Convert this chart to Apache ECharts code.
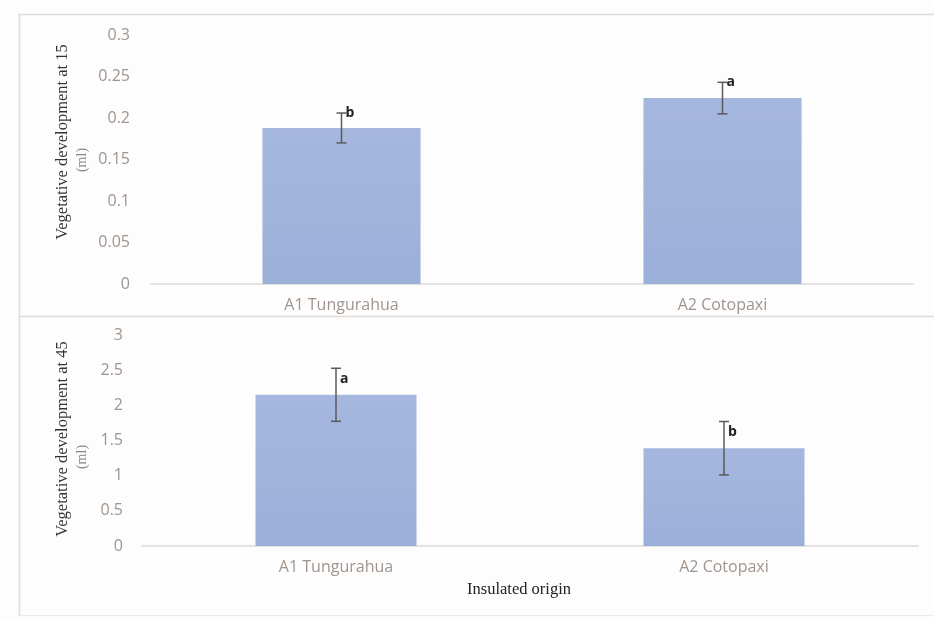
<!DOCTYPE html>
<html>
<head>
<meta charset="utf-8">
<script src="https://cdn.jsdelivr.net/npm/echarts@6/dist/echarts.min.js"></script>
<style>
  html, body { margin: 0; padding: 0; background: #fdfdfd; }
  #chart { width: 934px; height: 619px; }
</style>
</head>
<body>
<div id="chart"></div>
<script>
// Isolate origin categories
const categories = ['A1 Tungurahua', 'A2 Cotopaxi'];

// Vegetative development at 15 days (ml): means, standard errors, significance letters
const day15Means = [0.188, 0.224];
const day15Errors = [0.018, 0.019];
const day15Letters = ['b', 'a'];

// Vegetative development at 45 days (ml)
const day45Means = [2.15, 1.39];
const day45Errors = [0.377, 0.38];
const day45Letters = ['a', 'b'];

const labelGray = '#a0958e';
const lineGray = '#ddd8d4';
const barColor = new echarts.graphic.LinearGradient(0, 0, 0, 1, [
  { offset: 0, color: '#a5b7de' },
  { offset: 1, color: '#9bb0d9' }
]);

function errorItems(means, errors, letters) {
  return means.map((m, i) => [i, m - errors[i], m + errors[i], letters[i]]);
}

function makeErrorRenderer(letterDy) {
  return function (params, api) {
    const x = api.value(0);
    const lo = api.coord([x, api.value(1)]);
    const hi = api.coord([x, api.value(2)]);
    const cap = 5;
    const style = { stroke: '#5a5a5a', lineWidth: 1.5 };
    return {
      type: 'group',
      children: [
        { type: 'line', shape: { x1: hi[0], y1: hi[1], x2: lo[0], y2: lo[1] }, style },
        { type: 'line', shape: { x1: hi[0] - cap, y1: hi[1], x2: hi[0] + cap, y2: hi[1] }, style },
        { type: 'line', shape: { x1: lo[0] - cap, y1: lo[1], x2: lo[0] + cap, y2: lo[1] }, style },
        {
          type: 'text',
          style: {
            text: api.value(3),
            x: hi[0] + 4, y: hi[1] + letterDy,
            verticalAlign: 'middle', align: 'left',
            font: 'bold 14px "Open Sans", sans-serif',
            fill: '#222'
          }
        }
      ]
    };
  };
}

const yTitleFont = '"Liberation Serif", "DejaVu Serif", serif';

const chart = echarts.init(document.getElementById('chart'), null, { renderer: 'canvas' });

chart.setOption({
  backgroundColor: '#fdfdfd',
  animation: false,
  grid: [
    { left: 151, right: 21, top: 35, height: 249 },
    { left: 142, right: 16, top: 335, height: 211 }
  ],
  xAxis: [0, 1].map(g => ({
    type: 'category',
    gridIndex: g,
    data: categories,
    axisLine: { lineStyle: { color: lineGray, width: 1.5 } },
    axisTick: { show: false },
    axisLabel: {
      color: labelGray, fontSize: 16, margin: 13,
      fontFamily: '"Open Sans", sans-serif'
    }
  })),
  yAxis: [
    { gridIndex: 0, min: 0, max: 0.3, interval: 0.05 },
    { gridIndex: 1, min: 0, max: 3, interval: 0.5 }
  ].map((a, idx) => Object.assign(a, {
    type: 'value',
    axisLine: { show: false },
    axisTick: { show: false },
    splitLine: { show: false },
    axisLabel: {
      color: labelGray, fontSize: 16, margin: idx === 0 ? 21 : 19,
      fontFamily: '"Open Sans", sans-serif'
    }
  })),
  series: [
    {
      type: 'bar', xAxisIndex: 0, yAxisIndex: 0,
      data: day15Means, barWidth: '41.5%',
      itemStyle: { color: barColor }
    },
    {
      type: 'custom', xAxisIndex: 0, yAxisIndex: 0,
      data: errorItems(day15Means, day15Errors, day15Letters),
      renderItem: makeErrorRenderer(0), z: 5
    },
    {
      type: 'bar', xAxisIndex: 1, yAxisIndex: 1,
      data: day45Means, barWidth: '41.5%',
      itemStyle: { color: barColor }
    },
    {
      type: 'custom', xAxisIndex: 1, yAxisIndex: 1,
      data: errorItems(day45Means, day45Errors, day45Letters),
      renderItem: makeErrorRenderer(11), z: 5
    }
  ],
  graphic: [
    // panel frame lines
    { type: 'line', shape: { x1: 18, y1: 14.5, x2: 934, y2: 14.5 }, style: { stroke: '#e2dcd8', lineWidth: 1.5 } },
    { type: 'line', shape: { x1: 19.5, y1: 14, x2: 19.5, y2: 615 }, style: { stroke: '#e2dcd8', lineWidth: 1.5 } },
    { type: 'line', shape: { x1: 18, y1: 316.5, x2: 934, y2: 316.5 }, style: { stroke: '#e2dcd8', lineWidth: 1.5 } },
    { type: 'line', shape: { x1: 18, y1: 615.5, x2: 934, y2: 615.5 }, style: { stroke: '#eeeae7', lineWidth: 1 } },
    // y-axis titles
    {
      type: 'text', x: 63, y: 142, rotation: Math.PI / 2,
      style: { text: 'Vegetative development at 15', font: '16.5px ' + yTitleFont, fill: '#333', align: 'center', verticalAlign: 'middle' }
    },
    {
      type: 'text', x: 82, y: 160, rotation: Math.PI / 2,
      style: { text: '(ml)', font: '14px ' + yTitleFont, fill: '#888', align: 'center', verticalAlign: 'middle' }
    },
    {
      type: 'text', x: 63, y: 439, rotation: Math.PI / 2,
      style: { text: 'Vegetative development at 45', font: '16.5px ' + yTitleFont, fill: '#333', align: 'center', verticalAlign: 'middle' }
    },
    {
      type: 'text', x: 82, y: 457, rotation: Math.PI / 2,
      style: { text: '(ml)', font: '14px ' + yTitleFont, fill: '#888', align: 'center', verticalAlign: 'middle' }
    },
    // x-axis title
    {
      type: 'text', x: 519, y: 590,
      style: { text: 'Insulated origin', font: '16.5px ' + yTitleFont, fill: '#222', align: 'center', verticalAlign: 'middle' }
    }
  ]
});
</script>
</body>
</html>
